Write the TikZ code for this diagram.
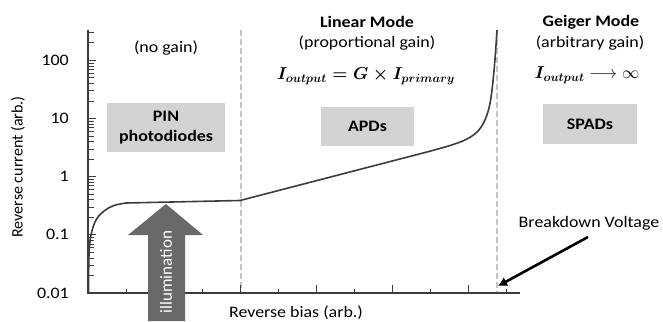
\documentclass[tikz,border=0pt]{standalone}
\usepackage{fontspec}
\setmainfont{Carlito}[FakeStretch=1.12]
\newfontfamily\plainsf{Carlito}
\usepackage{amsmath}
\usepackage{amssymb}
\usetikzlibrary{arrows.meta}
\definecolor{axisgray}{RGB}{60,60,60}
\definecolor{boxgray}{RGB}{211,211,211}
\definecolor{dashgray}{RGB}{195,195,195}
\definecolor{lightgray}{RGB}{105,105,105}

\begin{document}
\begin{tikzpicture}[x=1pt,y=-1pt]
\tikzstyle{every node}+=[inner sep=0pt, font=\fontsize{16}{20}\selectfont]
\tikzstyle{modebox}=[fill=boxgray, align=center, font=\fontsize{16}{20}\selectfont\bfseries]
\tikzstyle{divider}=[dashgray, line width=1.6pt, dash pattern=on 6pt off 3pt]
\useasboundingbox (0,0) rectangle (663,321);
\clip (0,0) rectangle (663,321);
\draw [divider] (241,30) -- (241,293);
\draw [divider] (497,30) -- (497,293);
\draw [axisgray, line width=1.3pt] (88,30) -- (88,293) -- (520,293);
\foreach \d/\lab in {0/0.01,1/0.1,2/1,3/10,4/100} {
  \draw [axisgray, line width=0.8pt] (88,293-58.2*\d) -- (96,293-58.2*\d);
  \node [anchor=east] (tick\d) at (69,293-58.2*\d) {\lab};
}
\foreach \d in {0,...,4}
  \foreach \m in {2,...,9} {
    \pgfmathsetmacro{\yy}{293-58.2*(\d+log10(\m))}
    \ifdim\yy pt>29pt
      \draw [axisgray, line width=0.6pt] (88,\yy) -- (94,\yy);
    \fi
  }
\foreach \x in {164,240,...,468}
  \draw [axisgray, line width=0.8pt] (\x,293) -- (\x,285);
\foreach \x in {126,202,...,506}
  \draw [axisgray, line width=0.8pt] (\x,293) -- (\x,289);
\draw [axisgray, line width=1.6pt] plot [smooth, tension=0.6] coordinates {(88.5,293) (89,255) (91,235) (96,220) (104,211) (114,205.5) (126,203)};
\draw [axisgray, line width=1.6pt] (126,203) -- (240,200.5) -- (425,152.5);
\draw [axisgray, line width=1.6pt] plot [smooth, tension=0.6] coordinates {(425,152.5) (450,145.5) (466,139.5) (477,132) (484,122) (489,108) (492,90) (494.5,65) (496,45) (497,30)};
\fill [lightgray] (148,321) -- (148,235) -- (128,235) -- (166,204) -- (203,235) -- (185,235) -- (185,321) -- cycle;
\node [rotate=90, white, font=\fontsize{17}{20}\plainsf] (illum) at (166,272) {illumination};
\node (nogain) at (166,48) {(no gain)};
\node [font=\fontsize{16}{20}\selectfont\bfseries] (linear) at (367,22) {Linear Mode};
\node (propgain) at (367,43) {(proportional gain)};
\node [font=\fontsize{17}{20}\selectfont] (lineq) at (366,76) {$\boldsymbol{I_{output} = G \times I_{primary}}$};
\node [font=\fontsize{16}{20}\selectfont\bfseries] (geiger) at (591,22) {Geiger Mode};
\node (arbgain) at (590,43) {(arbitrary gain)};
\node [font=\fontsize{17}{20}\selectfont] (geieq) at (587,75) {$\boldsymbol{I_{output}} \longrightarrow \infty$};
\node [modebox, minimum width=118pt, minimum height=49pt] (pin) at (166,127.5) {PIN\\photodiodes};
\node [modebox, minimum width=93pt, minimum height=39pt] (apd) at (367.5,126.5) {APDs};
\node [modebox, minimum width=94pt, minimum height=40pt] (spad) at (590,124) {SPADs};
\node [rotate=90, font=\fontsize{16}{20}\plainsf] (ylab) at (18,167) {Reverse current (arb.)};
\node (xlab) at (296,313) {Reverse bias (arb.)};
\node (bdv) at (589,223) {Breakdown Voltage};
\coordinate (bdtail) at (588,237);
\coordinate (bdtip) at (498,286);
\draw [black, line width=2.6pt, -{Latex[length=9pt,width=10pt]}] (bdtail) -- (bdtip);
\end{tikzpicture}
\end{document}
